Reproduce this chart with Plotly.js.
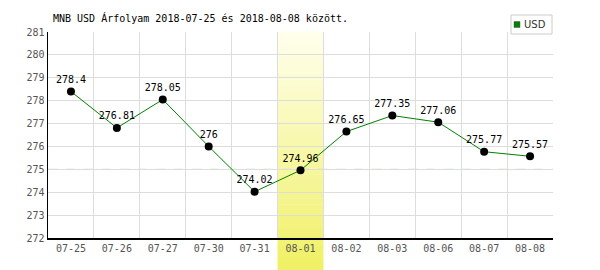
<!DOCTYPE html>
<html>
<head>
<meta charset="utf-8">
<script src="https://cdn.plot.ly/plotly-3.0.1.min.js"></script>
<style>html,body{margin:0;padding:0;background:#fff;}#chart{width:600px;height:270px;}</style>
</head>
<body>
<div id="chart"></div>
<script>
const categories = ["07-25","07-26","07-27","07-30","07-31","08-01","08-02","08-03","08-06","08-07","08-08"];
const usdValues = [278.4, 276.81, 278.05, 276, 274.02, 274.96, 276.65, 277.35, 277.06, 275.77, 275.57];
const valueLabels = ["278.4","276.81","278.05","276","274.02","274.96","276.65","277.35","277.06","275.77","275.57"];
const seriesName = "USD";
const referenceLevel = 275;
const highlightCategory = "08-01";
const yTicks = [272,273,274,275,276,277,278,279,280,281];

const idx = categories.map((c,i)=>i);
const mono = "DejaVu Sans Mono, monospace";

const traces = [
  {
    x: idx, y: usdValues, text: valueLabels,
    mode: "lines+markers+text", type: "scatter",
    line: {color: "#008000", width: 1},
    marker: {color: "#000", size: 8},
    textposition: "top center",
    textfont: {family: mono, size: 10, color: "#000"},
    showlegend: false, cliponaxis: false, hoverinfo: "skip"
  }
];

// highlight band gradient strips
const shapes = [];
const hi = categories.indexOf(highlightCategory);
const nStrips = 40;
const yBottom = -32/206, yTop = 1;
function mix(a,b,t){return Math.round(a+(b-a)*t);}
for (let s=0;s<nStrips;s++){
  const t0 = s/nStrips, t1 = (s+1)/nStrips;
  const t = (s+0.5)/nStrips; // 0 top, 1 bottom
  const r = mix(255,240,t), g = mix(255,240,t), b = mix(238,100,t);
  shapes.push({type:"rect", xref:"x", yref:"paper", x0: hi-0.5, x1: hi+0.5,
    y0: yTop-(yTop-yBottom)*t1, y1: yTop-(yTop-yBottom)*t0 + 0.002,
    fillcolor:`rgb(${r},${g},${b})`, line:{width:0}, layer:"between"});
}
shapes.push({type:"line", xref:"paper", yref:"y", x0:0, x1:1, y0:referenceLevel, y1:referenceLevel,
  line:{color:"#99dd99", width:1, dash:"dash"}, layer:"between"});

// legend box (drawn manually, compact like the reference)
const W = 600, H = 270;
const px = x => x / W, py = y => 1 - y / H;
shapes.push({type:"rect", xref:"paper", yref:"paper", x0: (511-48)/505, x1: (552-48)/505,
  y0: (238-34)/206, y1: (238-15)/206, line:{color:"#cccccc", width:1}, fillcolor:"#fff", layer:"above"});
shapes.push({type:"rect", xref:"paper", yref:"paper", x0: (514-48)/505, x1: (520-48)/505,
  y0: (238-27.5)/206, y1: (238-21.5)/206, line:{color:"#555", width:0.5}, fillcolor:"#008000", layer:"above"});

const annotations = [{
  text: seriesName, xref:"paper", yref:"paper", x:(522-48)/505, y:(238-24.5)/206,
  xanchor:"left", yanchor:"middle", showarrow:false,
  font:{family:"DejaVu Sans, sans-serif", size:10, color:"#333"}
}];

const layout = {
  width: 600, height: 270,
  margin: {l:48, r:47, t:32, b:32, autoexpand:false},
  paper_bgcolor: "#fff", plot_bgcolor: "#fff",
  title: {text: "MNB USD Árfolyam 2018-07-25 és 2018-08-08 között.", font:{family: mono, size: 10, color:"#000"},
    x: 53/600, xanchor:"left", xref:"container", y: 1-18/270, yanchor:"middle", yref:"container"},
  xaxis: {
    range: [-0.5, categories.length-0.5],
    tickmode: "array", tickvals: idx, ticktext: categories,
    showgrid: false, zeroline: false,
    showline: true, linecolor: "#000", linewidth: 1.5,
    ticks: "", ticklen: 0,
    tickfont: {family: mono, size: 10, color: "#555"},
    minor: {tickmode:"linear", tick0: -0.5, dtick: 1, showgrid: true, gridcolor:"#dddddd", gridwidth: 1, ticks: ""},
    fixedrange: true
  },
  yaxis: {
    range: [272, 281],
    tickmode: "array", tickvals: yTicks, ticktext: yTicks.map(String),
    showgrid: true, gridcolor: "#dddddd", gridwidth: 1, zeroline: false,
    showline: true, linecolor: "#000", linewidth: 1.5,
    ticks: "", tickfont: {family: mono, size: 10, color: "#555"},
    fixedrange: true
  },
  showlegend: false,
  shapes: shapes,
  annotations: annotations
};

Plotly.newPlot("chart", traces, layout, {staticPlot: true, displayModeBar: false});
</script>
</body>
</html>
